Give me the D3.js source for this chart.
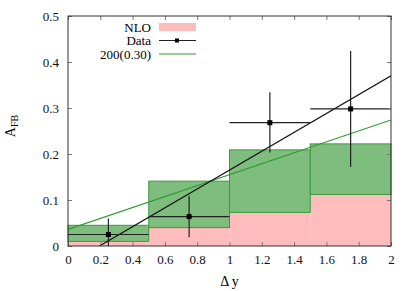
<!DOCTYPE html>
<html>
<head>
<meta charset="utf-8">
<title>AFB</title>
<style>
  body { margin: 0; background: #fff; }
  text { font-family: "Liberation Serif", "DejaVu Serif", serif; }
</style>
</head>
<body>
<svg id="chart" width="415" height="291"></svg>
<script src="https://cdnjs.cloudflare.com/ajax/libs/d3/7.8.5/d3.min.js"></script>
<script>
// bins in delta y
const binLo = [0, 0.5, 1, 1.5]
const binHi = [0.5, 1, 1.5, 2]
// NLO prediction (pink)
const nlo = [0.01, 0.04, 0.073, 0.112]
// 200(0.30) prediction (green band top)
const model = [0.045, 0.141, 0.209, 0.222]
// data points
const dataX = [0.25, 0.75, 1.25, 1.75]
const dataY = [0.025, 0.064, 0.268, 0.298]
const dataLo = [-0.01, 0.019, 0.203, 0.172]
const dataHi = [0.06, 0.109, 0.334, 0.424]
// straight fits (value at dy=0 and dy=2)
const dataFit = [-0.04, 0.37]
const modelFit = [0.036, 0.274]
const xTicks = [0, 0.2, 0.4, 0.6, 0.8, 1, 1.2, 1.4, 1.6, 1.8, 2]
const yTicks = [0, 0.1, 0.2, 0.3, 0.4, 0.5]

const serif = "Liberation Serif, DejaVu Serif, serif"

const margin = {top: 16, right: 24, bottom: 45, left: 68},
  width = 415 - margin.left - margin.right,
  height = 291 - margin.top - margin.bottom

const x = d3.scaleLinear().domain([0, 2]).range([0, width])
const y = d3.scaleLinear().domain([0, 0.5]).range([height, 0])

const svg = d3.select("#chart")
const g = svg.append("g")
  .attr("transform", "translate(" + margin.left + "," + margin.top + ")")

g.append("clipPath").attr("id", "clip")
  .append("rect").attr("width", width).attr("height", height)

const bins = binLo.map((lo, i) => ({lo: lo, hi: binHi[i], nlo: nlo[i], model: model[i]}))

// pink NLO bars
g.selectAll(".nlo")
  .data(bins)
  .enter().append("rect")
  .attr("fill", "#ffbcbc")
  .attr("x", d => x(d.lo))
  .attr("y", d => y(d.nlo))
  .attr("width", d => x(d.hi) - x(d.lo))
  .attr("height", d => y(0) - y(d.nlo))

// green band
g.selectAll(".band")
  .data(bins)
  .enter().append("rect")
  .attr("fill", "#7fbd7f")
  .attr("stroke", "#3b9a3b")
  .attr("stroke-width", 1)
  .attr("x", d => x(d.lo))
  .attr("y", d => y(d.model))
  .attr("width", d => x(d.hi) - x(d.lo))
  .attr("height", d => y(d.nlo) - y(d.model))

// fit lines
const clipped = g.append("g").attr("clip-path", "url(#clip)")
clipped.append("line")
  .attr("x1", x(0)).attr("y1", y(modelFit[0]))
  .attr("x2", x(2)).attr("y2", y(modelFit[1]))
  .attr("stroke", "#2e9a2e").attr("stroke-width", 1.2)
clipped.append("line")
  .attr("x1", x(0)).attr("y1", y(dataFit[0]))
  .attr("x2", x(2)).attr("y2", y(dataFit[1]))
  .attr("stroke", "#111").attr("stroke-width", 1.2)

// data points with error bars
const pts = dataX.map((v, i) => ({x: v, y: dataY[i], lo: dataLo[i], hi: dataHi[i], x0: binLo[i], x1: binHi[i]}))
const pg = clipped.selectAll(".pt").data(pts).enter().append("g")
pg.append("line")
  .attr("x1", d => x(d.x0)).attr("x2", d => x(d.x1))
  .attr("y1", d => y(d.y)).attr("y2", d => y(d.y))
  .attr("stroke", "#222").attr("stroke-width", 1.2)
pg.append("line")
  .attr("x1", d => x(d.x)).attr("x2", d => x(d.x))
  .attr("y1", d => y(d.lo)).attr("y2", d => y(d.hi))
  .attr("stroke", "#222").attr("stroke-width", 1.2)
pg.append("rect")
  .attr("x", d => x(d.x) - 2.5).attr("y", d => y(d.y) - 2.5)
  .attr("width", 5).attr("height", 5).attr("fill", "#000")

// axes with inward ticks
const tickCol = "#777"
g.append("g").attr("transform", "translate(0," + height + ")")
  .call(d3.axisBottom(x).tickValues(xTicks).tickFormat(d3.format("")).tickSize(-4).tickPadding(9))
g.append("g")
  .call(d3.axisTop(x).tickValues(xTicks).tickFormat("").tickSize(-4))
g.append("g")
  .call(d3.axisLeft(y).tickValues(yTicks).tickFormat(d3.format("")).tickSize(-4).tickPadding(9))
g.append("g").attr("transform", "translate(" + width + ",0)")
  .call(d3.axisRight(y).tickValues(yTicks).tickFormat("").tickSize(-4))
g.selectAll(".tick line").attr("stroke", tickCol)
g.selectAll(".domain").remove()
g.selectAll(".tick text").attr("font-size", 13).attr("fill", "#111")
  .attr("font-family", serif).style("font-family", serif)

g.append("rect").attr("width", width).attr("height", height)
  .attr("fill", "none").attr("stroke", "#333").attr("stroke-width", 1)

// axis titles
svg.append("text")
  .attr("transform", "translate(15,126) rotate(-90)")
  .attr("text-anchor", "middle").attr("font-size", 14).attr("font-family", serif)
  .html('A<tspan font-size="10" dy="3">FB</tspan>')
svg.append("text")
  .attr("x", margin.left + width / 2).attr("y", 286)
  .attr("text-anchor", "middle").attr("font-size", 14).attr("font-family", serif)
  .text("\u0394 y")

// legend
const legend = [
  {name: "NLO", kind: "box"},
  {name: "Data", kind: "data"},
  {name: "200(0.30)", kind: "line"}
]
const lg = svg.selectAll(".leg").data(legend).enter().append("g")
  .attr("transform", (d, i) => "translate(151," + (27 + i * 13.5) + ")")
lg.append("text").attr("text-anchor", "end").attr("dy", "0.35em")
  .attr("font-size", 13).attr("font-family", serif).text(d => d.name)
lg.filter(d => d.kind === "box").append("rect")
  .attr("x", 8).attr("y", -4).attr("width", 37).attr("height", 8).attr("fill", "#ffbcbc")
lg.filter(d => d.kind === "data").append("line")
  .attr("x1", 8).attr("x2", 45).attr("stroke", "#222").attr("stroke-width", 1.2)
lg.filter(d => d.kind === "data").append("rect")
  .attr("x", 24).attr("y", -2).attr("width", 4).attr("height", 4)
lg.filter(d => d.kind === "line").append("line")
  .attr("x1", 8).attr("x2", 45).attr("stroke", "#2e9a2e").attr("stroke-width", 1.2)
</script>
</body>
</html>
